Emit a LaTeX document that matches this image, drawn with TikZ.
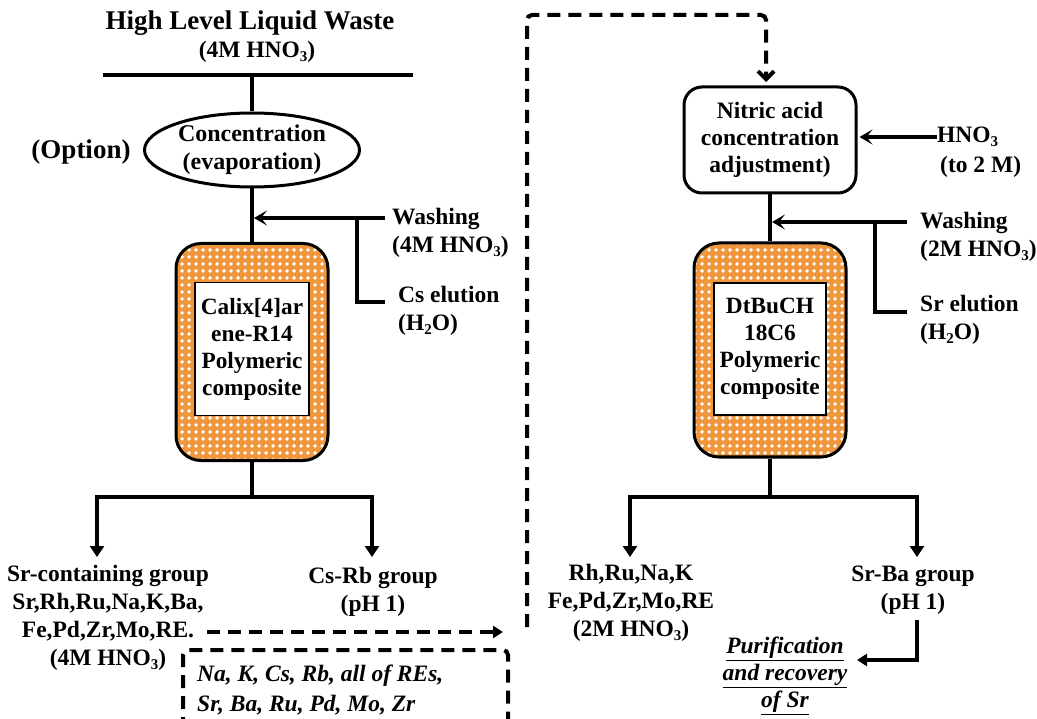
\documentclass[tikz,border=0pt]{standalone}
\usepackage{fontspec}
\setmainfont{Liberation Serif}
\usetikzlibrary{arrows.meta,patterns.meta,shapes.geometric}
\definecolor{orC}{RGB}{240,150,60}
\newcommand\dn[1]{\raisebox{-0.4ex}{\fontsize{15}{15}\selectfont #1}}
\tikzset{
 txt/.style={font=\bfseries\fontsize{23.5}{28}\selectfont, align=center, inner sep=0pt},
 ltxt/.style={txt, align=left, anchor=west},
 ln/.style={line width=3.5pt},
 arrD/.style={ln, -{Triangle[length=11pt,width=14pt]}},
 arrL/.style={ln, -{Stealth[length=13pt,width=15pt,inset=6pt]}},
 dsh/.style={line width=4pt, dash pattern=on 13pt off 8pt},
 column/.style={draw, line width=3pt, rounded corners=25pt, minimum width=152pt, minimum height=217pt, preaction={fill=orC}, pattern={Dots[radius=2.1pt,distance=6.5pt]}, pattern color=white},
 innerbox/.style={draw, line width=1.5pt, fill=white, minimum width=114pt, minimum height=133pt, txt, font=\bfseries\fontsize{23.3}{27}\selectfont},
}
\begin{document}
\begin{tikzpicture}[x=1pt,y=-1pt]
\useasboundingbox (0,0) rectangle (1037,719);
% ---------- left part ----------
\node[txt, font=\bfseries\fontsize{27}{30}\selectfont] (title) at (250,23) {High Level Liquid Waste};
\node[txt] (titsub) at (257,52) {(4M HNO\dn{3})};
\coordinate (hlL) at (103,75); \coordinate (hlR) at (413,75); \coordinate (hlM) at (252,75);
\draw[ln] (hlL) -- (hlR);
\node[ellipse, draw, line width=3pt, minimum width=215pt, minimum height=74pt, txt, font=\bfseries\fontsize{24}{28}\selectfont] (conc) at (252,150) {Concentration\\(evaporation)};
\node[txt, font=\bfseries\fontsize{27}{30}\selectfont] (opt) at (81,152) {(Option)};
\draw[ln] (hlM) -- (conc.north);
\node[column] (col1) at (252,352) {};
\node[innerbox] (in1) at (252,349) {Calix[4]ar\\ene-R14\\Polymeric\\composite};
\draw[ln] (conc.south) -- (col1.north);
\coordinate (w1) at (385,218); \coordinate (w1b) at (357,218); \coordinate (ce1) at (385,302);
\draw[arrL] (w1) -- ([xshift=2pt]w1 -| conc.south);
\draw[ln] (w1b) |- (ce1);
\node[ltxt] (wash1) at (392,233) {Washing\\(4M HNO\dn{3})};
\node[ltxt] (cse) at (398,311) {Cs elution\\(H\dn{2}O)};
\coordinate (b1) at (252,497); \coordinate (a1) at (97,557); \coordinate (a2) at (372,557);
\draw[ln] (col1.south) -- (b1);
\draw[arrD] (b1) -| (a1);
\draw[arrD] (b1) -| (a2);
\node[txt] (srg) at (108,618) {Sr-containing group\\Sr,Rh,Ru,Na,K,Ba,\\Fe,Pd,Zr,Mo,RE.\\(4M HNO\dn{3})};
\node[txt] (csrb) at (373,592) {Cs-Rb group\\(pH 1)};
\coordinate (d1) at (207,632); \coordinate (d2) at (503,632);
\draw[dsh, -{Triangle[length=10pt,width=12pt]}] (d1) -- (d2);
\coordinate (x1) at (183,730); \coordinate (x2) at (183,650); \coordinate (x3) at (508,650); \coordinate (x4) at (508,730);
\draw[dsh, rounded corners=5pt] (x1) -- (x2) -- (x3) -- (x4);
\node[ltxt, font=\bfseries\itshape\fontsize{23.5}{30}\selectfont] (ital) at (197,690) {Na, K, Cs, Rb, all of REs,\\Sr, Ba, Ru, Pd, Mo, Zr};
% ---------- dashed transfer ----------
\coordinate (y1) at (527,627); \coordinate (y3) at (766,15); \coordinate (y4) at (766,82);
\draw[dsh, rounded corners=5pt, -{Straight Barb[length=8pt,width=16pt]}] (y1) |- (y3) -- (y4);
% ---------- right part ----------
\node[draw, line width=3pt, rounded corners=18pt, minimum width=172pt, minimum height=106pt, txt, font=\bfseries\fontsize{23.5}{27}\selectfont] (nit) at (770,140) {Nitric acid\\concentration\\adjustment)};
\node[ltxt] (hno) at (937,137) {HNO\dn{3}};
\node[ltxt] (to2) at (940,167) {(to 2 M)};
\draw[arrL] (hno.west) -- ([xshift=2pt]hno.west -| nit.east);
\node[column, minimum height=214pt] (col2) at (770,350) {};
\node[innerbox, minimum width=112pt, minimum height=132pt] (in2) at (770,349) {DtBuCH\\18C6\\Polymeric\\composite};
\draw[ln] (nit.south) -- (col2.north);
\coordinate (w2) at (907,222); \coordinate (w2b) at (875,222); \coordinate (ce2) at (907,312);
\draw[arrL] (w2) -- ([xshift=2pt]w2 -| col2.north);
\draw[ln] (w2b) |- (ce2);
\node[ltxt] (wash2) at (920,237) {Washing\\(2M HNO\dn{3})};
\node[ltxt] (sre) at (920,320) {Sr elution\\(H\dn{2}O)};
\coordinate (b2) at (770,497); \coordinate (a3) at (630,557); \coordinate (a4) at (917,557);
\draw[ln] (col2.south) -- (b2);
\draw[arrD] (b2) -| (a3);
\draw[arrD] (b2) -| (a4);
\node[txt] (rh) at (631,603) {Rh,Ru,Na,K\\Fe,Pd,Zr,Mo,RE\\(2M HNO\dn{3})};
\node[txt] (srba) at (913,590) {Sr-Ba group\\(pH 1)};
\coordinate (p1) at (917,620); \coordinate (p2) at (857,660);
\draw[ln, -{Triangle[length=10pt,width=12pt]}] (p1) |- (p2);
\node[txt, font=\bfseries\itshape\fontsize{23.5}{27}\selectfont] (pur) at (785,676) {\underline{Purification}\\\underline{and recovery}\\\underline{of Sr}};
\end{tikzpicture}
\end{document}
